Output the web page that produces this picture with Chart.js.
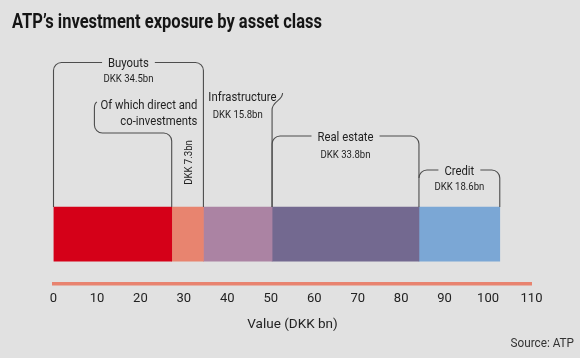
<!DOCTYPE html>
<html>
<head>
<meta charset="utf-8">
<script src="https://cdn.jsdelivr.net/npm/chart.js@4/dist/chart.umd.min.js"></script>
<style>
  html, body { margin: 0; padding: 0; background: #e1e1e1; }
  #wrap { width: 580px; height: 358px; }
</style>
</head>
<body>
<div id="wrap"><canvas id="c" width="580" height="358"></canvas></div>
<script>
// ---- Data ----
const title = 'ATP\u2019s investment exposure by asset class';
const source = 'Source: ATP';
const axisTitle = 'Value (DKK bn)';
const assetClasses = ['Buyouts', 'Infrastructure', 'Real estate', 'Credit'];
const assetValues = [34.5, 15.8, 33.8, 18.6];            // DKK bn
const directLabel = 'Of which direct and co-investments';
const directValue = 7.3;                                  // DKK bn, part of buyouts
const tickMin = 0, tickMax = 110, tickStep = 10;

// stacked segments: buyouts split into (rest, direct), then the other classes
const segmentNames = ['Buyouts (excl. direct)', 'Direct and co-investments', 'Infrastructure', 'Real estate', 'Credit'];
const segmentValues = [assetValues[0] - directValue, directValue, assetValues[1], assetValues[2], assetValues[3]];
const segmentColors = ['#d50018', '#e8846f', '#ab83a3', '#736990', '#7ba7d5'];

const FONT = "Roboto, 'DejaVu Sans Condensed', sans-serif";
Chart.defaults.font.family = FONT;

const fmt = v => 'DKK ' + v.toFixed(1) + 'bn';
const SX = 0.87; // horizontal condensing of annotation text

const annotPlugin = {
  id: 'annot',
  beforeDraw(chart) {
    const ctx = chart.ctx;
    ctx.save();
    ctx.fillStyle = '#e1e1e1';
    ctx.fillRect(0, 0, chart.width, chart.height);
    ctx.restore();
  },
  afterDatasetsDraw(chart) {
    const ctx = chart.ctx;
    const xs = chart.scales.x;
    const bar = chart.getDatasetMeta(0).data[0];
    const barTop = Math.round(bar.y - bar.height / 2);
    const cum = [0];
    segmentValues.forEach((v, i) => cum.push(cum[i] + v));
    const px = v => xs.getPixelForValue(v);
    const b0 = px(cum[0]), b1 = px(cum[1]), b2 = px(cum[2]), b3 = px(cum[3]), b4 = px(cum[4]), b5 = px(cum[5]);

    const labelFont = '13px ' + FONT;
    const valueFont = '11px ' + FONT;

    function txt(s, x, y, align, font, sx) {
      ctx.save();
      ctx.font = font;
      ctx.translate(x, y);
      ctx.scale(sx, 1);
      ctx.textAlign = align;
      ctx.textBaseline = 'alphabetic';
      ctx.fillText(s, 0, 0);
      ctx.restore();
    }
    function width(s, font, sx) { ctx.save(); ctx.font = font; const w = ctx.measureText(s).width * sx; ctx.restore(); return w; }

    ctx.save();
    ctx.strokeStyle = '#4d4d4d';
    ctx.lineWidth = 1.1;
    ctx.fillStyle = '#1f1f1f';
    const r = 8;

    function bracket(xL, xR, yTop, label, labelBase, value, valueBase, drawLeft) {
      const cx = (xL + xR) / 2;
      const w = width(label, labelFont, SX);
      ctx.beginPath();
      if (drawLeft) { ctx.moveTo(xL, barTop); ctx.lineTo(xL, yTop + r); }
      else { ctx.moveTo(xL, yTop + r); }
      ctx.arcTo(xL, yTop, xL + r, yTop, r);
      ctx.lineTo(cx - w / 2 - 6, yTop);
      ctx.moveTo(cx + w / 2 + 6, yTop);
      ctx.lineTo(xR - r, yTop);
      ctx.arcTo(xR, yTop, xR, yTop + r, r);
      ctx.lineTo(xR, barTop);
      ctx.stroke();
      txt(label, cx, labelBase, 'center', labelFont, SX);
      txt(value, cx, valueBase, 'center', valueFont, SX);
    }

    bracket(b0, b2, 62.5, assetClasses[0], 67, fmt(assetValues[0]), 82.3, true);
    bracket(b3, b4, 136, assetClasses[2], 140.5, fmt(assetValues[2]), 157.7, true);
    bracket(b4, b5, 170, assetClasses[3], 175, fmt(assetValues[3]), 190, false);

    // Infrastructure (right side curl only)
    ctx.beginPath();
    ctx.moveTo(b3 + 10.5, 93);
    ctx.bezierCurveTo(b3 + 10.5, 101, b3, 101, b3, 110);
    ctx.lineTo(b3, barTop);
    ctx.stroke();
    txt(assetClasses[1], b3 + 4.5, 100.5, 'right', labelFont, SX);
    txt(fmt(assetValues[1]), (b2 + b3) / 2, 118.3, 'center', valueFont, SX);

    // Of which direct and co-investments
    const words = directLabel.split(' ');
    const line1 = words.slice(0, 4).join(' ');
    const line2 = words.slice(4).join(' ');
    const tx = b2 - 6;
    txt(line1, tx, 109.3, 'right', labelFont, SX);
    txt(line2, tx, 125.3, 'right', labelFont, SX);
    const w1 = width(line1, labelFont, SX);
    const lx = tx - w1 - 6;
    const hy = 133;
    ctx.beginPath();
    ctx.moveTo(lx + 2.5, 102);
    ctx.quadraticCurveTo(lx, 103.5, lx, 108);
    ctx.lineTo(lx, hy - r);
    ctx.arcTo(lx, hy, lx + r, hy, r);
    ctx.lineTo(b1 - r, hy);
    ctx.arcTo(b1, hy, b1, hy + r, r);
    ctx.lineTo(b1, barTop);
    ctx.stroke();

    // rotated value for direct
    ctx.save();
    ctx.translate((b1 + b2) / 2 + 4, 162.5);
    ctx.rotate(-Math.PI / 2);
    txt(fmt(directValue), 0, 0, 'center', valueFont, SX);
    ctx.restore();

    // Title & source
    ctx.fillStyle = '#151515';
    const tf = 'bold 19.5px ' + FONT;
    const tsx = 310 / width(title, tf, 1);
    txt(title, 12, 28.3, 'left', tf, tsx);
    ctx.fillStyle = '#333';
    txt(source, 574, 346.7, 'right', '13.5px ' + FONT, SX);
    ctx.restore();
  }
};

new Chart(document.getElementById('c'), {
  type: 'bar',
  data: {
    labels: ['Exposure'],
    datasets: segmentNames.map((n, i) => ({
      label: n,
      data: [segmentValues[i]],
      backgroundColor: segmentColors[i],
      borderWidth: 0,
      barThickness: 54
    }))
  },
  options: {
    indexAxis: 'y',
    responsive: false,
    animation: false,
    layout: { padding: { left: 53.5, right: 48.5, top: 184, bottom: 25 } },
    plugins: { legend: { display: false }, tooltip: { enabled: false }, title: { display: false } },
    scales: {
      x: {
        stacked: true,
        min: tickMin, max: tickMax,
        ticks: { stepSize: tickStep, color: '#222', font: { size: 13 }, padding: 7, maxRotation: 0 },
        grid: { display: false, drawTicks: false },
        border: { display: true, color: '#e8836f', width: 3.5 },
        title: { display: true, text: axisTitle, color: '#222', font: { size: 13.5 }, padding: { top: 3, bottom: 0 } }
      },
      y: { stacked: true, display: false }
    }
  },
  plugins: [annotPlugin]
});
</script>
</body>
</html>
